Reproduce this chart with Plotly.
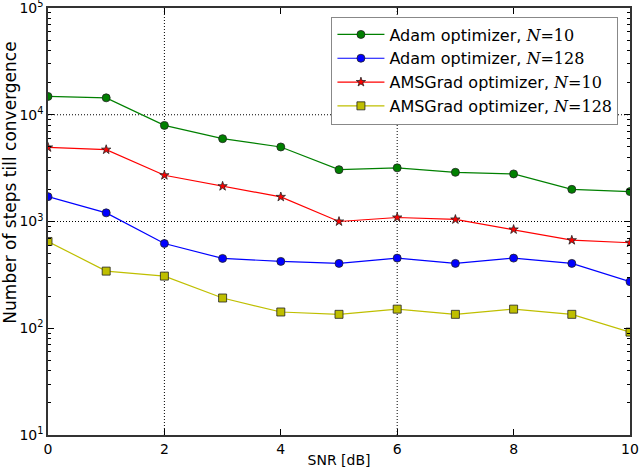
import plotly.graph_objects as go

snr = [0, 1, 2, 3, 4, 5, 6, 7, 8, 9, 10]
adam_10 = [14840, 14400, 7950, 5970, 4990, 3060, 3180, 2890, 2790, 2000, 1905]
adam_128 = [1710, 1205, 622, 451, 423, 405, 454, 405, 454, 405, 273]
ams_10 = [4940, 4710, 2710, 2140, 1700, 1000, 1090, 1045, 842, 668, 632]
ams_128 = [650, 343, 308, 192, 142, 135, 151, 135, 151, 135, 92]

y_tickvals = [10, 100, 1000, 10000, 100000]
y_ticktext = ["10<sup>1</sup>", "10<sup>2</sup>", "10<sup>3</sup>", "10<sup>4</sup>", "10<sup>5</sup>"]
x_tickvals = [0, 2, 4, 6, 8, 10]
x_grid = [2, 6]
y_grid = [1000, 10000]

minor_vals = [m * d for d in [10, 100, 1000, 10000] for m in range(2, 10)]

def lab(name, n):
    return f"{name}, <span style='font-family:DejaVu Serif'><i>N</i>=" + f"{n}</span>"

series = [
    (lab("Adam optimizer", 10), adam_10, "#008000", "circle", 8),
    (lab("Adam optimizer", 128), adam_128, "#0000ff", "circle", 8),
    (lab("AMSGrad optimizer", 10), ams_10, "#ff0000", "star", 7),
    (lab("AMSGrad optimizer", 128), ams_128, "#bfbf00", "square", 8),
]

fig = go.Figure()
for name, ys, col, sym, sz in series:
    fig.add_trace(go.Scatter(
        x=snr, y=ys, name=name, mode="lines+markers",
        line=dict(color=col, width=1.2),
        marker=dict(symbol=sym, size=sz, color=col, line=dict(color="#222222", width=0.8)),
    ))

for xv in x_grid:
    fig.add_shape(type="line", xref="x", yref="paper", x0=xv, x1=xv, y0=0, y1=1,
                  line=dict(color="black", width=1, dash="1px,2px"), layer="below")
for yv in y_grid:
    fig.add_shape(type="line", xref="paper", yref="y", x0=0, x1=1, y0=yv, y1=yv,
                  line=dict(color="black", width=1, dash="1px,2px"), layer="below")

fig.add_annotation(text="Number of steps till convergence", textangle=-90,
                   xref="paper", yref="paper", x=-0.066, y=0.59,
                   xanchor="center", yanchor="middle", showarrow=False,
                   font=dict(size=17, color="black"))

axis_common = dict(
    showline=True, linecolor="#333333", linewidth=1.5, mirror="ticks",
    ticks="inside", tickcolor="black", ticklen=6,
    showgrid=False, zeroline=False, automargin=False,
    ticklabeloverflow="allow",
    tickfont=dict(size=14, color="black"),
)

fig.update_layout(
    width=640, height=472,
    margin=dict(l=48, r=10, t=8, b=37),
    paper_bgcolor="white", plot_bgcolor="white",
    font=dict(family="DejaVu Sans", color="black"),
    showlegend=True,
    legend=dict(x=0.487, y=0.98, xanchor="left", yanchor="top",
                bordercolor="#888888", borderwidth=1, bgcolor="white",
                font=dict(size=16), tracegroupgap=0, itemwidth=47),
    xaxis=dict(range=[0, 10], tickvals=x_tickvals,
               title=dict(text="SNR [dB]", font=dict(size=14), standoff=0),
               **axis_common),
    yaxis=dict(type="log", range=[1, 5], tickvals=y_tickvals, ticktext=y_ticktext,
               minor=dict(ticks="inside", ticklen=3, tickcolor="black", tickmode="array",
                          tickvals=minor_vals, showgrid=False),
               **axis_common),
)

fig.write_html("out.html", config={"displayModeBar": False},
               post_script="document.body.style.margin='0';document.body.style.overflow='hidden';")
